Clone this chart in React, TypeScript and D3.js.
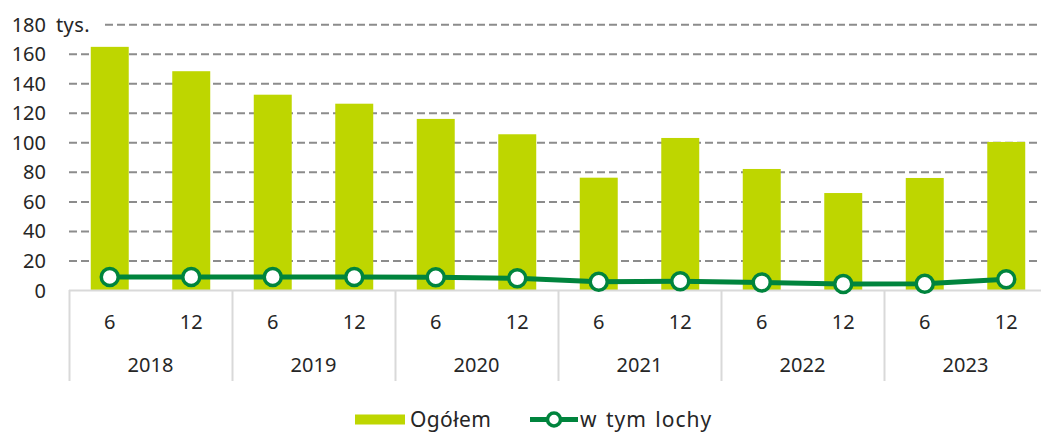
import React from "react";
import * as d3 from "d3";

const years = ["2018", "2019", "2020", "2021", "2022", "2023"];
const months = ["6", "12"];
const total = [165, 148.5, 132.6, 126.5, 116.2, 105.8, 76.4, 103.3, 82.3, 66, 76.2, 100.6];
const sows = [9.2, 9.2, 9.1, 9.1, 9.0, 8.3, 5.9, 6.3, 5.5, 4.4, 4.6, 7.6];
const yTicks = [0, 20, 40, 60, 80, 100, 120, 140, 160, 180];
const unitLabel = "tys.";
const legendBar = "Ogółem";
const legendLine = "w tym lochy";

const W = 1041;
const H = 432;
const FONT = "'Noto Sans', 'Open Sans', sans-serif";
const BAR = "#BED600";
const LINE = "#00843D";
const GRID = "#8C8C8C";
const AXIS = "#D9D9D9";
const TEXT = "#262626";

export default function App() {
  const cats = d3.range(years.length * months.length);
  const x = d3.scaleBand<number>().domain(cats).range([69, 1047]).padding(0);
  const y = d3.scaleLinear().domain([0, 180]).range([290.5, 24.7]);
  const step = x.step();
  const bw = step * 0.466;
  const cx = (i: number) => (x(i) as number) + step / 2;

  const line = d3
    .line<number>()
    .x((_, i) => cx(i))
    .y((d) => y(d));

  const legY = 419.5;

  return (
    <svg
      width={W}
      height={H}
      style={{ position: "absolute", left: 0, top: 0, background: "#fff" }}
      fontFamily={FONT}
    >
      {/* gridlines */}
      {yTicks.slice(1).map((t) => (
        <line
          key={t}
          x1={69}
          x2={W}
          y1={y(t)}
          y2={y(t)}
          stroke={GRID}
          strokeWidth={2}
          strokeDasharray="8 4"
        />
      ))}
      {/* unit label with white background */}
      <rect x={50} y={y(180) - 12} width={53} height={24} fill="#fff" />
      <text x={56} y={y(180)} dy="0.35em" fontSize={20} letterSpacing={0.4} fill={TEXT}>
        {unitLabel}
      </text>
      {/* y tick labels */}
      {yTicks.map((t) => (
        <text
          key={t}
          x={46}
          y={y(t)}
          dy="0.35em"
          textAnchor="end"
          fontSize={20}
          fill={TEXT}
        >
          {t}
        </text>
      ))}
      {/* bars */}
      {total.map((v, i) => (
        <rect
          key={i}
          x={cx(i) - bw / 2}
          y={y(v)}
          width={bw}
          height={y(0) - y(v)}
          fill={BAR}
        />
      ))}
      {/* x axis */}
      <line x1={69} x2={W} y1={290.5} y2={290.5} stroke={AXIS} strokeWidth={2} />
      {d3.range(years.length + 1).map((k) => {
        const xx = k < years.length ? (x(k * 2) as number) : 69 + step * 12;
        return (
          <line
            key={k}
            x1={xx + 0.5}
            x2={xx + 0.5}
            y1={290}
            y2={381}
            stroke={AXIS}
            strokeWidth={2}
          />
        );
      })}
      {cats.map((i) => (
        <text
          key={i}
          x={cx(i)}
          y={322}
          dy="0.35em"
          textAnchor="middle"
          fontSize={20}
          fill={TEXT}
        >
          {months[i % months.length]}
        </text>
      ))}
      {years.map((yr, k) => (
        <text
          key={yr}
          x={(x(k * 2) as number) + step}
          y={365}
          dy="0.35em"
          textAnchor="middle"
          fontSize={20}
          fill={TEXT}
        >
          {yr}
        </text>
      ))}
      {/* line series */}
      <path d={line(sows) || ""} fill="none" stroke={LINE} strokeWidth={5} />
      {sows.map((v, i) => (
        <circle
          key={i}
          cx={cx(i)}
          cy={y(v)}
          r={8.5}
          fill="#fff"
          stroke={LINE}
          strokeWidth={3.5}
        />
      ))}
      {/* legend */}
      <rect x={355} y={legY - 5} width={50} height={10} fill={BAR} />
      <text x={410} y={legY} dy="0.35em" fontSize={21} letterSpacing={0.4} fill={TEXT}>
        {legendBar}
      </text>
      <line x1={530} x2={578} y1={legY} y2={legY} stroke={LINE} strokeWidth={5} />
      <circle cx={554} cy={legY} r={6.5} fill="#fff" stroke={LINE} strokeWidth={3.5} />
      <text x={580} y={legY} dy="0.35em" fontSize={21} letterSpacing={1} wordSpacing={2} fill={TEXT}>
        {legendLine}
      </text>
    </svg>
  );
}
